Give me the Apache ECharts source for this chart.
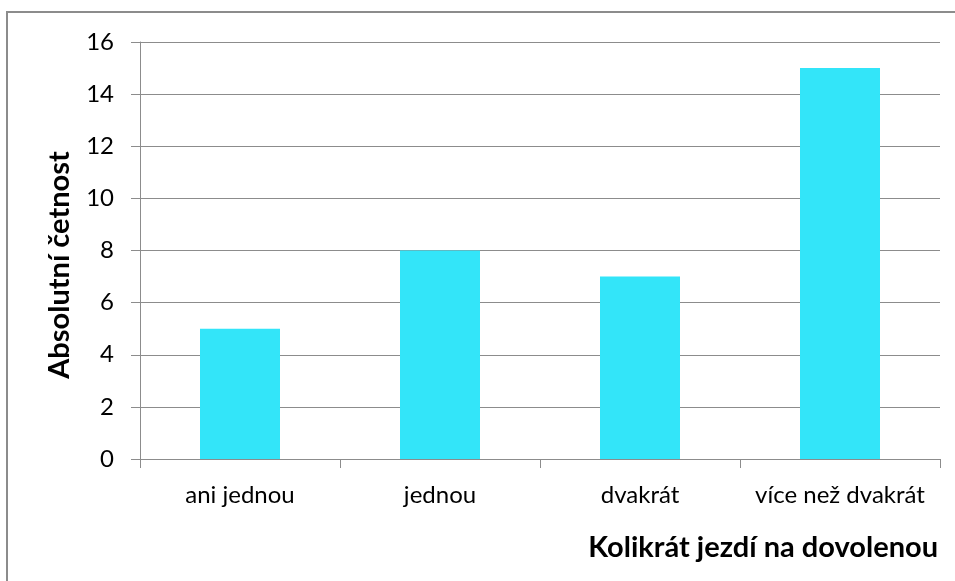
<!DOCTYPE html>
<html><head><meta charset="utf-8">
<script src="https://cdn.jsdelivr.net/npm/echarts@6/dist/echarts.min.js"></script>
<style>html,body{margin:0;padding:0;background:#fff}#c{width:955px;height:581px}</style>
</head><body><div id="c"></div>
<script>
var categories = ['ani jednou', 'jednou', 'dvakrát', 'více než dvakrát'];
var values = [5, 8, 7, 15];
var yTitle = 'Absolutní četnost';
var xTitle = 'Kolikrát jezdí na dovolenou';

var chart = echarts.init(document.getElementById('c'));
var font = 'Lato, "Open Sans", sans-serif';
chart.setOption({
  animation: false,
  backgroundColor: '#fff',
  graphic: [
    {type: 'rect', shape: {x: 7, y: 12, width: 960, height: 580}, style: {fill: 'none', stroke: '#8c8c8c', lineWidth: 2}},
    {type: 'text', x: 938, y: 548, style: {text: xTitle, font: 'bold 29px ' + font, fill: '#000', align: 'right', verticalAlign: 'middle'}},
    {type: 'text', x: 60, y: 265, rotation: Math.PI / 2, style: {text: yTitle, font: 'bold 29px ' + font, fill: '#000', align: 'center', verticalAlign: 'middle'}}
  ],
  grid: {left: 140, right: 15, top: 42, bottom: 122},
  xAxis: {
    type: 'category', data: categories,
    axisLine: {lineStyle: {color: '#8c8c8c', width: 1}},
    axisTick: {show: true, interval: 0, alignWithLabel: false, length: 9, lineStyle: {color: '#8c8c8c'}},
    axisLabel: {interval: 0, color: '#000', fontSize: 24, fontFamily: font, margin: 24}
  },
  yAxis: {
    type: 'value', min: 0, max: 16, interval: 2,
    axisLine: {show: true, lineStyle: {color: '#8c8c8c'}},
    axisTick: {show: true, length: 9, lineStyle: {color: '#8c8c8c'}},
    splitLine: {lineStyle: {color: '#8c8c8c'}},
    axisLabel: {color: '#000', fontSize: 24, fontFamily: font, margin: 26}
  },
  series: [{
    type: 'bar', data: values, barWidth: '40%',
    itemStyle: {color: '#33e5f9'}
  }]
});
</script></body></html>
